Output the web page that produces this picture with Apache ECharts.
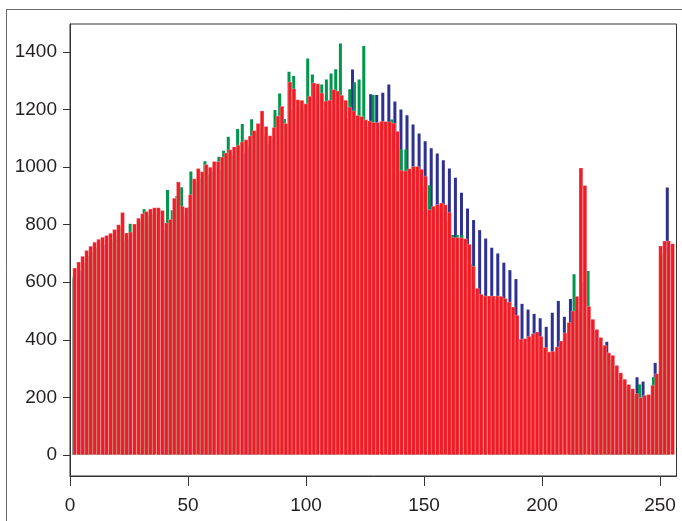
<!DOCTYPE html>
<html><head><meta charset="utf-8">
<script src="https://cdn.jsdelivr.net/npm/echarts@6/dist/echarts.min.js"></script>
<style>html,body{margin:0;padding:0;background:#fff}#c{width:682px;height:521px}</style>
</head><body><div id="c"></div>
<script>
// tick labels
const xTicks = [0, 50, 100, 150, 200, 250];
const yTicks = [0, 200, 400, 600, 800, 1000, 1200, 1400];

// histogram bins (grey level of first occupied bin, spacing between occupied bins)
const redFirst = 2, redStep = 1.689;
const greenFirst = 2, greenStep = 1.98;
const blueFirst = 2, blueStep = 2.565;

const redCounts = [
 650, 671, 691, 711, 726, 740, 750, 757, 763, 771,
 784, 801, 843, 772, 775, 803, 823, 839, 847, 855,
 860, 860, 850, 807, 819, 893, 949, 865, 860, 905,
 960, 996, 985, 1010, 1000, 1020, 1020, 1036, 1050, 1061,
 1071, 1077, 1088, 1096, 1109, 1128, 1152, 1196, 1142, 1110,
 1138, 1178, 1212, 1152, 1296, 1273, 1235, 1233, 1221, 1247,
 1293, 1290, 1258, 1230, 1233, 1270, 1265, 1250, 1233, 1209,
 1196, 1180, 1177, 1165, 1161, 1156, 1156, 1160, 1159, 1158,
 1154, 1125, 990, 987, 995, 1003, 1003, 993, 969, 853,
 865, 871, 876, 870, 844, 756, 756, 755, 752, 733,
 656, 580, 559, 553, 553, 553, 553, 552, 544, 532,
 515, 486, 403, 405, 413, 422, 428, 413, 374, 359,
 361, 376, 397, 425, 461, 501, 552, 998, 937, 517,
 472, 437, 409, 382, 356, 347, 312, 286, 264, 246,
 231, 214, 200, 208, 211, 243, 283, 727, 744, 744,
 735
];

const greenCounts = [
 620, 640, 665, 690, 705, 720, 728, 735, 745, 760,
 790, 745, 803, 790, 810, 854, 830, 835, 835, 815,
 920, 850, 900, 930, 840, 985, 950, 960, 1020, 975,
 990, 1036, 1057, 1105, 1040, 1132, 1150, 1080, 1166, 1120,
 1150, 1110, 1090, 1198, 1256, 1167, 1331, 1316, 1210, 1200,
 1377, 1322, 1260, 1287, 1304, 1325, 1340, 1429, 1200, 1270,
 1295, 1304, 1421, 1140, 1250, 1130, 1130, 1140, 1165, 1100,
 1062, 1062, 980, 990, 990, 937, 937, 850, 860, 850,
 814, 764, 764, 764, 677, 662, 560, 545, 540, 540,
 540, 540, 535, 525, 500, 400, 390, 395, 400, 410,
 400, 365, 350, 355, 370, 390, 440, 628, 500, 500,
 639, 430, 400, 375, 345, 330, 280, 260, 240, 220,
 205, 245, 200, 205, 270, 280, 700, 700
];

const blueCounts = [
 610, 640, 680, 700, 720, 730, 740, 760, 760, 750,
 770, 800, 815, 825, 825, 780, 800, 850, 830, 860,
 930, 950, 965, 985, 990, 1010, 1025, 1040, 1050, 1070,
 1090, 1110, 1080, 1100, 1140, 1120, 1200, 1190, 1180, 1200,
 1230, 1200, 1150, 1210, 1200, 1170, 1339, 1140, 1140, 1253,
 1250, 1258, 1287, 1228, 1200, 1180, 1148, 1117, 1090, 1065,
 1047, 1024, 995, 963, 911, 856, 816, 781, 752, 720,
 700, 668, 642, 611, 525, 505, 490, 475, 445, 494,
 535, 480, 542, 540, 600, 450, 430, 380, 393, 300,
 260, 240, 215, 270, 255, 200, 320, 700, 929
];

function binData(first, step, counts) {
  return counts.map((v, i) => [first + i * step, v]);
}

const chart = echarts.init(document.getElementById('c'), null, {renderer: 'canvas'});
const font = "'Liberation Sans', Arial, sans-serif";
chart.setOption({
  animation: false,
  backgroundColor: '#fff',
  graphic: [{
    type: 'rect', silent: true, z: -10,
    shape: {x: 6.5, y: 9.5, width: 700, height: 600},
    style: {fill: 'none', stroke: '#666', lineWidth: 1}
  }],
  grid: {left: 70, top: 24, width: 606.5, height: 452, show: true,
         borderColor: '#333', borderWidth: 1, backgroundColor: 'transparent'},
  xAxis: {
    type: 'value', min: 0, max: 257,
    axisLine: {show: true, onZero: false, lineStyle: {color: '#333', width: 1}},
    axisTick: {show: true, length: 10, customValues: xTicks, lineStyle: {color: '#333'}},
    axisLabel: {customValues: xTicks, margin: 20, fontSize: 19, color: '#231f20', fontFamily: font,
                formatter: v => String(v)},
    splitLine: {show: false}
  },
  yAxis: {
    type: 'value', min: -73, max: 1497,
    axisLine: {show: true, onZero: false, lineStyle: {color: '#333', width: 1}},
    axisTick: {show: true, length: 7, customValues: yTicks, lineStyle: {color: '#333'}},
    axisLabel: {customValues: yTicks, margin: 13, fontSize: 19, color: '#231f20', fontFamily: font,
                padding: [6, 0, 0, 0], formatter: v => String(v)},
    splitLine: {show: false}
  },
  series: [
    {type: 'bar', name: 'B', data: binData(blueFirst, blueStep, blueCounts),
     barWidth: 3, barGap: '-100%', itemStyle: {color: '#2e3192'}},
    {type: 'bar', name: 'G', data: binData(greenFirst, greenStep, greenCounts),
     barWidth: 3, barGap: '-100%', itemStyle: {color: '#00964b'}},
    {type: 'bar', name: 'R', data: binData(redFirst, redStep, redCounts),
     barWidth: 4.3, barGap: '-100%',
     itemStyle: {color: '#ef1c26', borderColor: 'rgba(255,235,235,0.6)', borderWidth: 0.5}}
  ]
});
</script></body></html>
